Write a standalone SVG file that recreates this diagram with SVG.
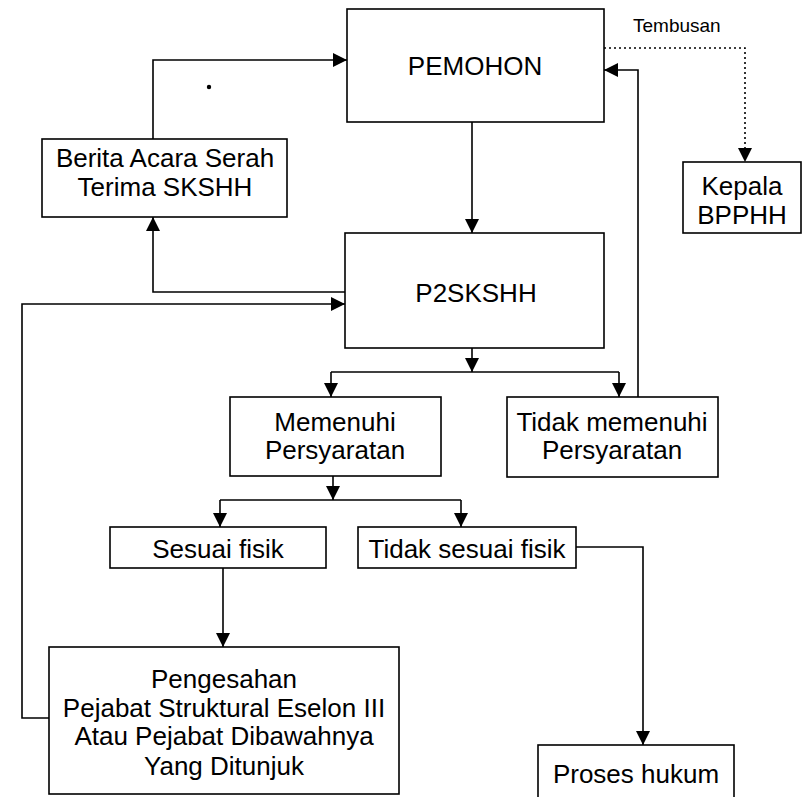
<svg xmlns="http://www.w3.org/2000/svg" width="810" height="797" viewBox="0 0 810 797">
<style>
  .box { fill: #fff; stroke: #000; stroke-width: 1.6; }
  .t { font-family: "Liberation Sans", Arial, sans-serif; font-size: 26px; fill: #000; text-anchor: middle; }
  .small { font-family: "Liberation Sans", Arial, sans-serif; font-size: 19px; fill: #000; }
  .c { fill: none; stroke: #000; stroke-width: 1.6; }
  .arr { marker-end: url(#ah); }
  .dot { stroke-dasharray: 2 3; }
</style>
<defs>
  <marker id="ah" markerUnits="userSpaceOnUse" markerWidth="14" markerHeight="14" viewBox="0 0 14 14" refX="14" refY="7" orient="auto">
    <path d="M0,0 L14,7 L0,14 Z" fill="#000"/>
  </marker>
</defs>
<rect width="810" height="797" fill="#fff"/>

<g id="connectors">
  <path class="c arr" d="M153,139 V60 H347"/>
  <path class="c arr" d="M472,122 V233"/>
  <path class="c arr" d="M345,292 H153 V217"/>
  <path class="c arr" d="M50,718 H22 V304 H345"/>
  <path class="c arr" d="M472,348 V372"/>
  <path class="c" d="M331,372 H619"/>
  <path class="c arr" d="M331,372 V397"/>
  <path class="c arr" d="M619,372 V397"/>
  <path class="c arr" d="M638,397 V70 H604"/>
  <path class="c dot arr" d="M604,48 H745 V162"/>
  <path class="c arr" d="M333,476 V500"/>
  <path class="c" d="M220,500 H461"/>
  <path class="c arr" d="M220,500 V527"/>
  <path class="c arr" d="M461,500 V527"/>
  <path class="c arr" d="M223,568 V647"/>
  <path class="c arr" d="M576,547 H643 V745"/>
  <text class="small" x="633" y="32">Tembusan</text>
  <circle cx="209" cy="87" r="2.2" fill="#000"/>
</g>

<g id="pemohon">
  <rect class="box" x="347" y="9" width="257" height="113"/>
  <text class="t" x="475" y="75">PEMOHON</text>
</g>
<g id="berita">
  <rect class="box" x="42" y="139" width="245" height="78"/>
  <text class="t" x="165" y="167">Berita Acara Serah</text>
  <text class="t" x="165" y="196">Terima SKSHH</text>
</g>
<g id="kepala">
  <rect class="box" x="683" y="162" width="118" height="71"/>
  <text class="t" x="742" y="195">Kepala</text>
  <text class="t" x="742" y="224">BPPHH</text>
</g>
<g id="p2skshh">
  <rect class="box" x="345" y="233" width="259" height="115"/>
  <text class="t" x="476" y="302">P2SKSHH</text>
</g>
<g id="memenuhi">
  <rect class="box" x="230" y="397" width="211" height="79"/>
  <text class="t" x="335" y="431">Memenuhi</text>
  <text class="t" x="335" y="459">Persyaratan</text>
</g>
<g id="tidak-memenuhi">
  <rect class="box" x="507" y="397" width="211" height="80"/>
  <text class="t" x="612" y="431">Tidak memenuhi</text>
  <text class="t" x="612" y="459">Persyaratan</text>
</g>
<g id="sesuai">
  <rect class="box" x="110" y="527" width="216" height="41"/>
  <text class="t" x="218" y="558">Sesuai fisik</text>
</g>
<g id="tidak-sesuai">
  <rect class="box" x="358" y="527" width="218" height="41"/>
  <text class="t" x="467" y="558">Tidak sesuai fisik</text>
</g>
<g id="pengesahan">
  <rect class="box" x="49" y="647" width="350" height="147"/>
  <text class="t" x="224" y="688">Pengesahan</text>
  <text class="t" x="224" y="717">Pejabat Struktural Eselon III</text>
  <text class="t" x="224" y="745">Atau Pejabat Dibawahnya</text>
  <text class="t" x="224" y="775">Yang Ditunjuk</text>
</g>
<g id="proses">
  <rect class="box" x="538" y="745" width="196" height="60"/>
  <text class="t" x="636" y="783">Proses hukum</text>
</g>
</svg>
